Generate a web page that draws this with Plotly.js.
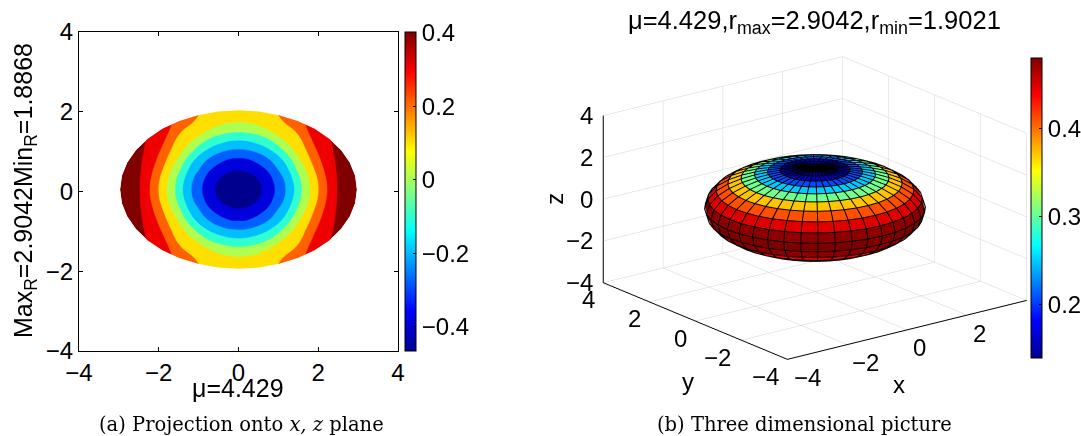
<!DOCTYPE html>
<html>
<head>
<meta charset="utf-8">
<script src="https://cdn.plot.ly/plotly-3.0.1.min.js"></script>
<style>html,body{margin:0;padding:0;background:#fff}#c{width:1081px;height:436px}</style>
</head>
<body>
<div id="c"></div>
<script>
// ---------- Left panel: projection onto x,z plane ----------
// band edges read on the right half of the oval: x and distance d from the line z = 0.05
var centreZ = 0.05;
var edgeM04X = [0,0.25,0.49,0.58];           var edgeM04D = [0.47,0.42,0.25,0];
var edgeM03X = [0,0.25,0.68,0.85,0.90];      var edgeM03D = [0.78,0.75,0.5,0.25,0];
var edgeM02X = [0,0.4,0.77,0.98,1.13,1.17];  var edgeM02D = [1.0,0.94,0.75,0.5,0.25,0];
var edgeM01X = [0,0.4,0.78,1.09,1.25,1.35,1.39]; var edgeM01D = [1.22,1.16,1.0,0.75,0.5,0.25,0];
var edge00X = [0,0.4,0.77,1.10,1.32,1.45,1.55,1.58]; var edge00D = [1.43,1.38,1.25,1.0,0.75,0.5,0.25,0];
var edgeP01X = [0,0.4,0.72,1.12,1.37,1.54,1.68,1.76,1.79]; var edgeP01D = [1.68,1.63,1.5,1.25,1.0,0.75,0.5,0.25,0];
var edgeP02X = [0,0.7,0.96,1.12,1.46,1.71,1.885,1.975,2.0]; var edgeP02D = [2.4,2.3,1.91,1.70,1.41,0.95,0.53,0.25,0];
var edgeP03X = [0,1.4,1.62,1.65,1.71,1.875,2.04,2.18,2.22]; var edgeP03D = [2.4,2.3,1.95,1.70,1.53,1.16,0.78,0.33,0];
var edgeP04X = [0,2.1,2.31,2.375,2.44,2.47]; var edgeP04D = [2.4,2.2,1.29,0.95,0.54,0];
var bandColors = ['#00008f','#0000dd','#0060ff','#00bfff','#30ffcf','#afff50','#ffdf00','#ff6000','#ee0000','#800000'];
var outlineX = [2.97,2.925,2.791,2.572,2.275,1.909,1.485,1.016,0.516,0,-0.516,-1.016,-1.485,-1.909,-2.275,-2.572,-2.791,-2.925,-2.97,-2.925,-2.791,-2.572,-2.275,-1.909,-1.485,-1.016,-0.516,0,0.516,1.016,1.485,1.909,2.275,2.572,2.791,2.925,2.97];
var outlineZ = [0.05,0.395,0.729,1.043,1.326,1.571,1.769,1.915,2.005,2.035,2.005,1.915,1.769,1.571,1.326,1.043,0.729,0.395,0.05,-0.295,-0.629,-0.943,-1.226,-1.471,-1.669,-1.815,-1.905,-1.935,-1.905,-1.815,-1.669,-1.471,-1.226,-0.943,-0.629,-0.295,0.05];
var axisTicks = [-4,-2,0,2,4];
var barTicksLeft = [-0.4,-0.2,0,0.2,0.4];
var barRangeLeft = [-0.466,0.402];

// ---------- Right panel: three dimensional picture ----------
var colatDeg = [0,9,18,27,36,45,54,63,72,81,90,99,108,117,126,135,144,153,162,171,180];
var radiusByColat = [1.902,1.916,1.956,2.025,2.123,2.25,2.404,2.573,2.736,2.857,2.904,2.857,2.736,2.573,2.404,2.25,2.123,2.025,1.956,1.916,1.902];
var bandValues = [0.142,0.145,0.16,0.207,0.25,0.305,0.371,0.411,0.448,0.4755,0.48,0.4755,0.448,0.43,0.42,0.40,0.37,0.33,0.28,0.22];
var lonDeg = [0,9,18,27,36,45,54,63,72,81,90,99,108,117,126,135,144,153,162,171,180,189,198,207,216,225,234,243,252,261,270,279,288,297,306,315,324,333,342,351,360];
var barTicksRight = [0.2,0.3,0.4];
var barRangeRight = [0.1386,0.4807];
var tickLabels = ['−4','−2','0','2','4'];

var jet = [[0,'#00008f'],[0.125,'#0000ff'],[0.375,'#00ffff'],[0.625,'#ffff00'],[0.875,'#ff0000'],[1,'#800000']];
var FONT = 'Liberation Sans, Arial, sans-serif';
var BIG = 24;

function rad(d){return d*Math.PI/180;}
function pt(colat,lon,r){
  return [r*Math.sin(rad(colat))*Math.cos(rad(lon)), r*Math.sin(rad(colat))*Math.sin(rad(lon)), r*Math.cos(rad(colat))];
}
function closedBand(ex,ed,color){
  var x=[],y=[],i;
  for(i=0;i<ex.length;i++){x.push(ex[i]);y.push(centreZ+ed[i]);}
  for(i=ex.length-2;i>=0;i--){x.push(ex[i]);y.push(centreZ-ed[i]);}
  for(i=1;i<ex.length;i++){x.push(-ex[i]);y.push(centreZ-ed[i]);}
  for(i=ex.length-2;i>=0;i--){x.push(-ex[i]);y.push(centreZ+ed[i]);}
  return {type:'scatter',mode:'lines',x:x,y:y,fill:'toself',fillcolor:color,line:{color:color,width:0.5,shape:'spline',smoothing:1.2,simplify:false},hoverinfo:'skip',showlegend:false};
}

var sx=[],sy=[],sz=[],sc=[];
bandValues.forEach(function(v,b){
  [b,b+1].forEach(function(e){
    var rx=[],ry=[],rz=[],rc=[];
    lonDeg.forEach(function(l){
      var p=pt(colatDeg[e],l,radiusByColat[e]);
      rx.push(p[0]);ry.push(p[1]);rz.push(p[2]);rc.push(v);
    });
    sx.push(rx);sy.push(ry);sz.push(rz);sc.push(rc);
  });
});
var lx=[],ly=[],lz=[];
var LIFT=1.008;
colatDeg.forEach(function(c,i){
  lonDeg.forEach(function(l){var p=pt(c,l,radiusByColat[i]*LIFT);lx.push(p[0]);ly.push(p[1]);lz.push(p[2]);});
  lx.push(null);ly.push(null);lz.push(null);
});
lonDeg.forEach(function(l){
  colatDeg.forEach(function(c,i){var p=pt(c,l,radiusByColat[i]*LIFT);lx.push(p[0]);ly.push(p[1]);lz.push(p[2]);});
  lx.push(null);ly.push(null);lz.push(null);
});
var gx=[],gy=[],gz=[];
function seg(a,b){gx.push(a[0],b[0],null);gy.push(a[1],b[1],null);gz.push(a[2],b[2],null);}
axisTicks.forEach(function(t){
  seg([t,-4,-4],[t,4,-4]); seg([-4,t,-4],[4,t,-4]);
  seg([4,t,-4],[4,t,4]);   seg([4,-4,t],[4,4,t]);
  seg([t,4,-4],[t,4,4]);   seg([-4,4,t],[4,4,t]);
});

var maskX=[4.5,4.5,-4.5,-4.5,4.5,4.5].concat(outlineX.slice().reverse()).concat([4.5]);
var maskY=[0.05,4.5,4.5,-4.5,-4.5,0.05].concat(outlineZ.slice().reverse()).concat([0.05]);

var W=1081,H=436;
var traces=[
 {type:'scatter',mode:'lines',x:outlineX,y:outlineZ,fill:'toself',fillcolor:bandColors[9],line:{width:0},hoverinfo:'skip',showlegend:false},
 closedBand(edgeP04X,edgeP04D,bandColors[8]),
 closedBand(edgeP03X,edgeP03D,bandColors[7]),
 closedBand(edgeP02X,edgeP02D,bandColors[6]),
 closedBand(edgeP01X,edgeP01D,bandColors[5]),
 closedBand(edge00X,edge00D,bandColors[4]),
 closedBand(edgeM01X,edgeM01D,bandColors[3]),
 closedBand(edgeM02X,edgeM02D,bandColors[2]),
 closedBand(edgeM03X,edgeM03D,bandColors[1]),
 closedBand(edgeM04X,edgeM04D,bandColors[0]),
 {type:'scatter',mode:'lines',x:maskX,y:maskY,fill:'toself',fillcolor:'#ffffff',line:{width:0},hoverinfo:'skip',showlegend:false},
 {type:'heatmap',x:[100,101],y:[100,101],z:[[barRangeLeft[0],barRangeLeft[1]],[barRangeLeft[0],barRangeLeft[1]]],
  zmin:barRangeLeft[0],zmax:barRangeLeft[1],zauto:false,colorscale:jet,hoverinfo:'skip',
  colorbar:{x:405/W,xanchor:'left',xpad:0,y:1-351/H,yanchor:'bottom',ypad:0,len:319/H,lenmode:'fraction',thickness:11,thicknessmode:'pixels',
    tickmode:'array',tickvals:barTicksLeft,ticks:'inside',ticklen:3,tickcolor:'#000',tickfont:{family:FONT,size:BIG,color:'#000'},
    outlinecolor:'#000',outlinewidth:1}},
 {type:'scatter3d',scene:'scene',mode:'lines',x:gx,y:gy,z:gz,line:{color:'#d4d4d4',width:1},hoverinfo:'skip',showlegend:false,connectgaps:false},
 {type:'surface',scene:'scene',x:sx,y:sy,z:sz,surfacecolor:sc,cmin:barRangeRight[0],cmax:barRangeRight[1],colorscale:jet,hoverinfo:'skip',
  lighting:{ambient:1,diffuse:0,specular:0,roughness:1,fresnel:0},
  colorbar:{x:1031/W,xanchor:'left',xpad:0,y:1-358/H,yanchor:'bottom',ypad:0,len:300/H,lenmode:'fraction',thickness:11,thicknessmode:'pixels',
    tickmode:'array',tickvals:barTicksRight,ticks:'inside',ticklen:3,tickcolor:'#000',tickfont:{family:FONT,size:BIG,color:'#000'},
    outlinecolor:'#000',outlinewidth:1}},
 {type:'scatter3d',scene:'scene',mode:'lines',x:lx,y:ly,z:lz,line:{color:'#000',width:2},hoverinfo:'skip',showlegend:false,connectgaps:false}
];

function ax3(){
  return {title:{text:''},range:[-4,4],autorange:false,tickmode:'array',tickvals:axisTicks,showticklabels:false,ticks:'',
    showgrid:false,zeroline:false,showbackground:false,showline:true,linecolor:'#000',linewidth:2,showspikes:false};
}
var sceneNotes=[];
function note(x,y,z,text,xs,ys,extra){
  var a={x:x,y:y,z:z,text:text,showarrow:false,xshift:xs,yshift:ys,font:{family:FONT,size:BIG,color:'#000'},xanchor:'center',yanchor:'middle'};
  if(extra)for(var key in extra)a[key]=extra[key];
  sceneNotes.push(a);
}
var yLabelShift=[-22,-24,-15,-15,-15];
var xLabelShift=[20,18,12,12,12];
axisTicks.forEach(function(t,i){
  note(-4,4,t,tickLabels[i],-9,0,{xanchor:'right'});
  note(-4,t,-4,tickLabels[i],yLabelShift[i],-17);
  if(t<4)note(t,-4,-4,tickLabels[i],xLabelShift[i],-18);
});
note(-4,4,0,'z',-50,0,{textangle:-90});
note(-4,0,-4,'y',-8,-60);
note(0,-4,-4,'x',-9,-55);

var layout={
 width:W,height:H,showlegend:false,paper_bgcolor:'#fff',plot_bgcolor:'#fff',
 margin:{l:0,r:0,t:0,b:0,autoexpand:false},font:{family:FONT,color:'#000'},
 xaxis:{domain:[79/W,398/W],range:[-4,4],tickmode:'array',tickvals:axisTicks,ticks:'inside',ticklen:4,tickcolor:'#000',showgrid:false,zeroline:false,
   showline:true,mirror:'ticks',linecolor:'#000',linewidth:1,tickfont:{family:FONT,size:BIG},automargin:false},
 yaxis:{domain:[1-351/H,1-32/H],range:[-4,4],tickmode:'array',tickvals:axisTicks,ticks:'inside',ticklen:4,tickcolor:'#000',showgrid:false,zeroline:false,
   showline:true,mirror:'ticks',linecolor:'#000',linewidth:1,tickfont:{family:FONT,size:BIG},automargin:false},
 scene:{domain:{x:[0.5295,0.9795],y:[0.103,0.943]},aspectmode:'manual',aspectratio:{x:1.65,y:1.65,z:0.964},
   camera:{projection:{type:'orthographic'},eye:{x:-0.70,y:-0.91,z:0.388},center:{x:0,y:0,z:0},up:{x:0,y:0,z:1}},
   xaxis:ax3(),yaxis:ax3(),zaxis:ax3(),bgcolor:'#fff',annotations:sceneNotes},
 annotations:[
  {xref:'paper',yref:'paper',x:814/W,y:1-22/H,text:'μ=4.429,r<sub>max</sub>=2.9042,r<sub>min</sub>=1.9021',showarrow:false,font:{family:FONT,size:25.5},xanchor:'center',yanchor:'middle'},
  {xref:'paper',yref:'paper',x:238/W,y:1-388/H,text:'μ=4.429',showarrow:false,font:{family:FONT,size:25},xanchor:'center',yanchor:'middle'},
  {xref:'paper',yref:'paper',x:25/W,y:1-191/H,text:'Max<sub>R</sub>=2.9042Min<sub>R</sub>=1.8868',textangle:-90,showarrow:false,font:{family:FONT,size:25},xanchor:'center',yanchor:'middle'},
  {xref:'paper',yref:'paper',x:241/W,y:1-424/H,text:'(a) Projection onto <i>x, z</i> plane',showarrow:false,font:{family:'DejaVu Serif, serif',size:19.5},xanchor:'center',yanchor:'middle'},
  {xref:'paper',yref:'paper',x:804/W,y:1-424/H,text:'(b) Three dimensional picture',showarrow:false,font:{family:'DejaVu Serif, serif',size:19.5},xanchor:'center',yanchor:'middle'}
 ]
};
Plotly.newPlot('c',traces,layout,{displayModeBar:false});
</script>
</body>
</html>
